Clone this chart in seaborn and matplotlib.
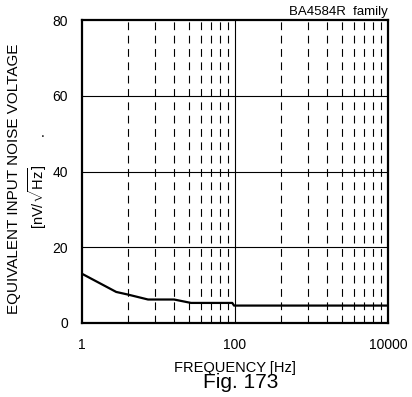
import numpy as np
import pandas as pd
import matplotlib
matplotlib.use("Agg")
import matplotlib.pyplot as plt
import seaborn as sns

# ---------------------------
# data
# ---------------------------
freq_hz = [1, 2.8, 4.0, 7.3, 16, 26.6, 92, 97, 10000]
noise_nv = [13.0, 8.2, 7.5, 6.2, 6.2, 5.3, 5.3, 4.6, 4.6]

y_ticks = [0, 20, 40, 60, 80]
x_ticks = [1, 100, 10000]
x_tick_labels = ["1", "100", "10000"]
# the original grid is spaced as k^2 inside each 1..100 span
grid_k = [2, 3, 4, 5, 6, 7, 8, 9]

df = pd.DataFrame({"freq": freq_hz, "noise": noise_nv})

sns.set_style("white")
plt.rcParams["font.family"] = ["Liberation Sans", "DejaVu Sans"]
plt.rcParams["mathtext.fontset"] = "custom"
plt.rcParams["mathtext.rm"] = "Liberation Sans"
plt.rcParams["text.color"] = "black"
plt.rcParams["xtick.color"] = "black"
plt.rcParams["ytick.color"] = "black"

fig = plt.figure(figsize=(4.12, 3.97), dpi=100)
ax = fig.add_axes([0.199, 0.1864, 0.743, 0.7632])

sns.lineplot(data=df, x="freq", y="noise", ax=ax, color="black", linewidth=1.6)

ax.set_xscale("log")
ax.set_xlim(1, 10000)
ax.set_ylim(0, 80)

# grid
for base in [1, 100]:
    for k in grid_k:
        ax.axvline(base * k * k, color="black", lw=0.8, ls=(0, (7, 5)), zorder=0)
ax.axvline(100, color="black", lw=0.8, zorder=0)
for yv in [20, 40, 60]:
    ax.axhline(yv, color="black", lw=0.8, zorder=0)

ax.set_xticks(x_ticks)
ax.set_xticklabels(x_tick_labels)
ax.xaxis.set_minor_locator(matplotlib.ticker.NullLocator())
ax.set_yticks(y_ticks)
ax.tick_params(axis="both", length=0, labelsize=10)
ax.tick_params(axis="x", pad=11)
ax.tick_params(axis="y", pad=10)

for s in ax.spines.values():
    s.set_linewidth(1.6)
    s.set_color("black")

ax.set_xlabel("")
ax.set_ylabel("")

ax.text(1.0, 1.005, "BA4584R  family", transform=ax.transAxes,
        ha="right", va="bottom", fontsize=9.5)

fig.text(14 / 412, 1 - 179 / 397, "EQUIVALENT INPUT NOISE VOLTAGE",
         rotation=90, ha="center", va="center", fontsize=11)
fig.text(38 / 412, 1 - 197 / 397, r"[nV/$\sqrt{\mathrm{Hz}}$]",
         rotation=90, ha="center", va="center", fontsize=10.5)
fig.text(43 / 412, 1 - 133 / 397, ".", ha="center", va="center", fontsize=10)

fig.text(235 / 412, 1 - 368 / 397, "FREQUENCY [Hz]",
         ha="center", va="center", fontsize=10.5)
fig.text(241 / 412, 1 - 383 / 397, "Fig. 173",
         ha="center", va="center", fontsize=15)

fig.savefig("out.png", dpi=100)
